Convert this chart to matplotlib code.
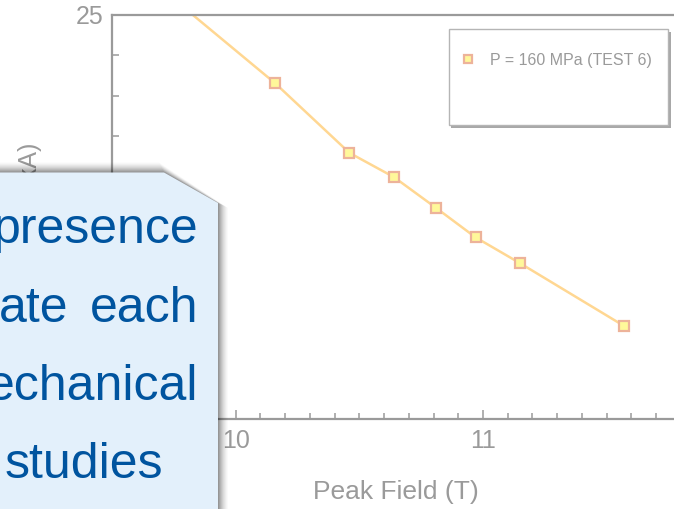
import matplotlib
matplotlib.use("Agg")
import matplotlib.pyplot as plt
from matplotlib.patches import Polygon, Rectangle
from matplotlib.ticker import MultipleLocator

plt.rcParams['font.family'] = ['Liberation Sans', 'DejaVu Sans']

# Peak field (T) and quench current (kA), TEST 6 at 160 MPa
peak_field = [9.77, 10.16, 10.46, 10.64, 10.81, 10.97, 11.15, 11.57]
current_ka = [25.29, 23.31, 21.59, 20.99, 20.23, 19.50, 18.86, 17.31]
series_label = "P = 160 MPa (TEST 6)"

x_ticks = [10, 11]
y_ticks = [15, 20, 25]

callout_lines = ["presence", "ate", "each", "echanical", "studies"]

W, H = 674, 509
GRAY = "#9a9a9a"
BLUE = "#00549F"


def fx(px):
    return px / W


def fy(py):
    return 1 - py / H


fig = plt.figure(figsize=(W / 100, H / 100), dpi=100)
fig.patch.set_facecolor("white")

# axes run off the right edge of the slide
ax = fig.add_axes([fx(112), fy(419.3), (730.3 - 112) / W, (419.3 - 15) / H])
ax.set_xlim(9.5, 12.0)
ax.set_ylim(15, 25)

ax.plot(peak_field, current_ka, color="#FFD792", lw=1.8, zorder=2)
pts, = ax.plot(peak_field, current_ka, ls="none", marker="s", ms=6.6,
               mfc="#FFF89A", mec="#EDB39A", mew=1.6, zorder=3,
               label=series_label)

for side in ("top", "left", "bottom", "right"):
    ax.spines[side].set_color(GRAY)
    ax.spines[side].set_linewidth(1.6)

ax.set_xticks(x_ticks)
ax.set_yticks(y_ticks)
ax.set_yticklabels([str(v) for v in y_ticks])
ax.xaxis.set_minor_locator(MultipleLocator(0.1))
ax.yaxis.set_minor_locator(MultipleLocator(1))
ax.tick_params(axis="both", which="both", direction="in", color=GRAY,
               labelcolor=GRAY, width=1.1, labelsize=18)
ax.tick_params(axis="x", which="major", length=6.5, pad=7)
ax.tick_params(axis="x", which="minor", length=4.5)
ax.tick_params(axis="y", which="both", length=5, pad=6)
ax.tick_params(top=False, right=False, which="both")

ax.set_xlabel("Peak Field (T)", fontsize=19, color=GRAY)
ax.xaxis.set_label_coords((396 - 112) / (730.3 - 112), -(492 - 419.3) / (419.3 - 15))
ax.xaxis.label.set_va("center")

fig.text(fx(30), fy(143), "Current (kA)", rotation=90, ha="center", va="top",
         fontsize=18, color=GRAY)

# legend panel with drop shadow
fig.patches.append(Rectangle((fx(451), fy(128)), (668 - 448) / W, (125 - 29) / H,
                             transform=fig.transFigure, facecolor="#a8a8a8",
                             edgecolor="none", zorder=1))
fig.patches.append(Rectangle((fx(448.5), fy(125)), (668 - 448.5) / W, (125 - 29.5) / H,
                             transform=fig.transFigure, facecolor="white",
                             edgecolor="#b5b5b5", lw=1.0, zorder=1.1))
leg = ax.legend(handles=[pts], loc="center left",
                bbox_to_anchor=(fx(448), fy(60)), bbox_transform=fig.transFigure,
                frameon=False, fontsize=11.5, labelcolor=GRAY, borderpad=0,
                handlelength=1.5, handletextpad=0.62, markerscale=0.85)
leg.set_zorder(1.2)
fig.legends.append(leg)
ax.get_legend().remove()

# callout box with soft shadow
shape = [(0, 172.5), (164, 172.5), (218, 203), (218, 520), (0, 520)]
for i, a in zip(range(10, 0, -1), [0.02, 0.025, 0.03, 0.035, 0.04, 0.05, 0.06, 0.07, 0.08, 0.09]):
    grown = [(-5, 172.5 - i), (164 - i * 0.5, 172.5 - i), (218 + i, 203 + i * 0.5),
             (218 + i, 520), (-5, 520)]
    fig.patches.append(Polygon([(fx(x), fy(y)) for x, y in grown], closed=True,
                               transform=fig.transFigure, facecolor="black",
                               edgecolor="none", alpha=a, zorder=5))
fig.patches.append(Polygon([(fx(x), fy(y)) for x, y in shape], closed=True,
                           transform=fig.transFigure, facecolor="#E3F0FB",
                           edgecolor="none", zorder=6))

txt = dict(fontsize=36, color=BLUE, zorder=7, va="baseline")
fig.text(fx(198), fy(243), callout_lines[0], ha="right", **txt)
fig.text(fx(68.5), fy(322), callout_lines[1], ha="right", **txt)
fig.text(fx(198), fy(322), callout_lines[2], ha="right", **txt)
fig.text(fx(198), fy(400), callout_lines[3], ha="right", **txt)
fig.text(fx(5), fy(478), callout_lines[4], ha="left", **txt)

fig.savefig("out.png", dpi=100)
